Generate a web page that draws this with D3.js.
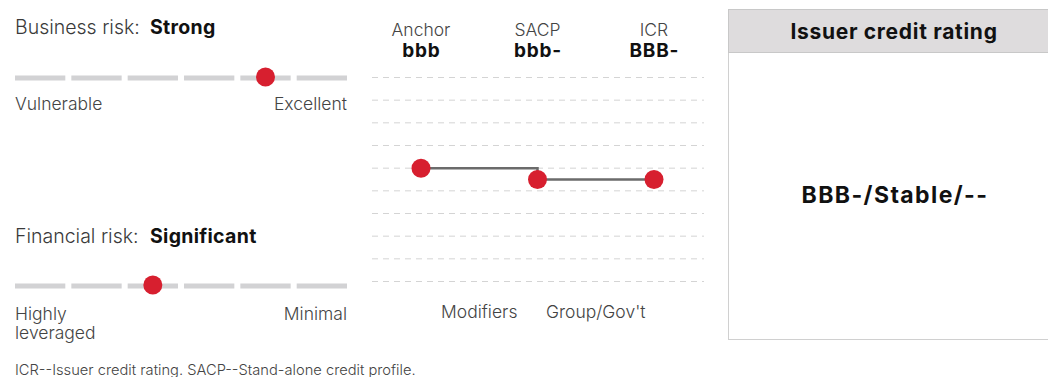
<!DOCTYPE html>
<html>
<head>
<meta charset="utf-8">
<script src="https://cdn.jsdelivr.net/npm/d3@7"></script>
<style>
  html, body { margin: 0; padding: 0; background: #fff; }
  svg { display: block; font-family: Inter, Roboto, sans-serif; }
</style>
</head>
<body>
<svg id="chart" width="1048" height="377"></svg>
<script>
// ---- data ----
const businessCategories = ["Vulnerable", "Weak", "Fair", "Satisfactory", "Strong", "Excellent"];
const businessValue = "Strong";
const businessEnds = ["Vulnerable", "Excellent"];

const financialCategories = ["Highly leveraged", "Aggressive", "Significant", "Intermediate", "Modest", "Minimal"];
const financialValue = "Significant";
const financialEnds = [["Highly", "leveraged"], ["Minimal"]];

const ratingScale = ["aaa", "aa+", "aa", "aa-", "a+", "a", "a-", "bbb+", "bbb", "bbb-",
                     "bb+", "bb", "bb-", "b+", "b", "b-", "ccc+", "ccc", "ccc-"];
const stepLabels = ["Anchor", "SACP", "ICR"];
const stepRatings = ["bbb", "bbb-", "bbb-"];
const stepDisplay = ["bbb", "bbb-", "BBB-"];
const modifierLabels = ["Modifiers", "Group/Gov't"];

const boxTitle = "Issuer credit rating";
const issuerRating = "BBB-/Stable/--";
const footnote = "ICR--Issuer credit rating. SACP--Stand-alone credit profile.";

// ---- drawing ----
const svg = d3.select("#chart");
const red = "#d71f2f";

function riskPanel(title, value, cats, ends, titleY, barY, labelGap) {
  const g = svg.append("g");
  const t = g.append("text").attr("x", 15).attr("y", titleY)
    .attr("font-size", 19.5).attr("fill", "#3a3a3a").attr("font-weight", 300);
  t.append("tspan").text(title + ":");
  t.append("tspan").attr("x", 150).attr("font-weight", 700).attr("fill", "#111")
    .attr("letter-spacing", 0.3).text(value);

  const x = d3.scaleBand().domain(cats).range([15, 347]).paddingInner(0.107).paddingOuter(0);
  g.selectAll("rect.seg").data(cats).join("rect")
    .attr("class", "seg")
    .attr("x", d => x(d)).attr("y", barY - 2.5)
    .attr("width", x.bandwidth()).attr("height", 5)
    .attr("fill", "#d2d2d4");
  g.append("circle")
    .attr("cx", x(value) + x.bandwidth() / 2).attr("cy", barY - 1)
    .attr("r", 9.5).attr("fill", red);

  const left = g.append("text").attr("x", 15).attr("y", barY + labelGap)
    .attr("font-size", 17.5).attr("fill", "#444").attr("font-weight", 300);
  [].concat(ends[0]).forEach((s, i) => left.append("tspan").attr("x", 15).attr("dy", i ? 18.5 : 0).text(s));
  g.append("text").attr("x", 347).attr("y", barY + labelGap).attr("text-anchor", "end")
    .attr("font-size", 17.5).attr("fill", "#444").attr("font-weight", 300)
    .text([].concat(ends[1])[0]);
}

riskPanel("Business risk", businessValue, businessCategories, [businessEnds[0], businessEnds[1]], 34, 78, 32);
riskPanel("Financial risk", financialValue, financialCategories, financialEnds, 243, 286, 34);

// middle panel
const xs = d3.scalePoint().domain(stepLabels).range([421, 654]);
const ys = d3.scalePoint().domain(ratingScale).range([77.5, 281.5]);

svg.append("g").selectAll("line").data(ratingScale.filter((d, i) => i % 2 === 0)).join("line")
  .attr("x1", 372).attr("x2", 704)
  .attr("y1", d => ys(d)).attr("y2", d => ys(d))
  .attr("stroke", "#d4d4d4").attr("stroke-width", 1)
  .attr("stroke-dasharray", "6,5");

const hdr = svg.append("g");
stepLabels.forEach((s, i) => {
  hdr.append("text").attr("x", xs(s)).attr("y", 36).attr("text-anchor", "middle")
    .attr("font-size", 17.5).attr("fill", "#444").attr("font-weight", 300).text(s);
  hdr.append("text").attr("x", xs(s) + 0.4).attr("y", 57).attr("text-anchor", "middle")
    .attr("font-size", 19).attr("fill", "#111").attr("font-weight", 700)
    .attr("letter-spacing", 0.8).text(stepDisplay[i]);
});

const pts = stepLabels.map((s, i) => [xs(s), ys(stepRatings[i])]);
svg.append("path")
  .attr("d", d3.line().curve(d3.curveStepAfter)(pts))
  .attr("fill", "none").attr("stroke", "#6b6b6b").attr("stroke-width", 2.5);
svg.append("g").selectAll("circle").data(pts).join("circle")
  .attr("cx", d => d[0]).attr("cy", d => d[1]).attr("r", 9.5).attr("fill", red);

modifierLabels.forEach((m, i) => {
  const cx = (xs(stepLabels[i]) + xs(stepLabels[i + 1])) / 2;
  svg.append("text").attr("x", cx).attr("y", 318).attr("text-anchor", "middle")
    .attr("font-size", 17.5).attr("fill", "#444").attr("font-weight", 300).text(m);
});

// right box
const box = svg.append("g");
box.append("rect").attr("x", 728.5).attr("y", 9.5).attr("width", 340).attr("height", 330)
  .attr("fill", "#fff").attr("stroke", "#d0d0d0");
box.append("rect").attr("x", 728.5).attr("y", 9.5).attr("width", 340).attr("height", 43)
  .attr("fill", "#dedcdd").attr("stroke", "#c8c8c8");
box.append("text").attr("x", 894).attr("y", 39).attr("text-anchor", "middle")
  .attr("font-size", 21).attr("font-weight", 700).attr("fill", "#111")
  .attr("letter-spacing", 0.7).text(boxTitle);
box.append("text").attr("x", 895).attr("y", 203).attr("text-anchor", "middle")
  .attr("font-size", 23).attr("font-weight", 700).attr("fill", "#111")
  .attr("letter-spacing", 1.4).text(issuerRating);

svg.append("text").attr("x", 15).attr("y", 375)
  .attr("font-size", 14.7).attr("fill", "#444").attr("font-weight", 300).text(footnote);
</script>
</body>
</html>
